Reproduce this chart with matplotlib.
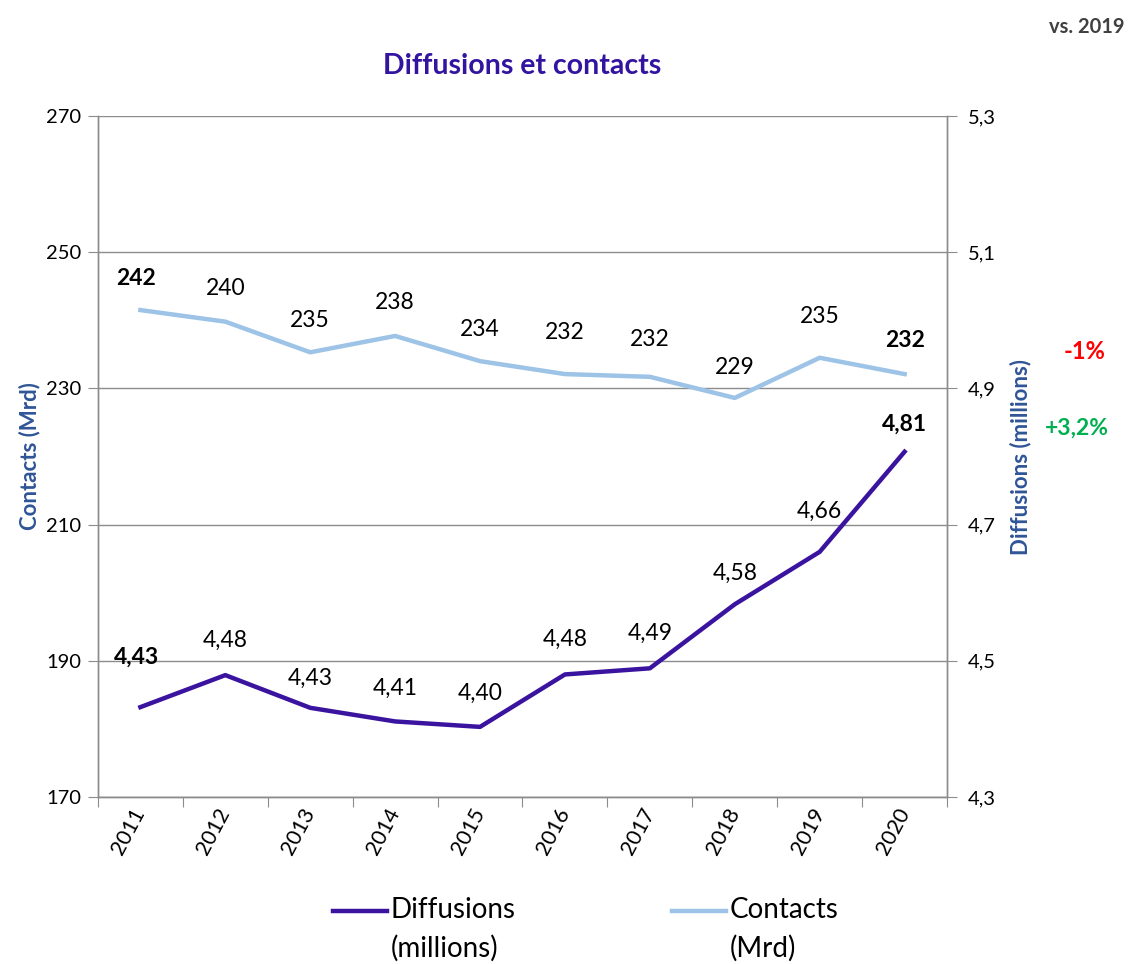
import matplotlib
matplotlib.use("Agg")
import matplotlib.pyplot as plt
from matplotlib.ticker import FixedLocator, NullFormatter, FuncFormatter
from matplotlib.legend_handler import HandlerLine2D

years = ["2011", "2012", "2013", "2014", "2015", "2016", "2017", "2018", "2019", "2020"]
diffusions = [4.432, 4.479, 4.431, 4.411, 4.403, 4.480, 4.489, 4.583, 4.660, 4.807]
contacts = [241.5, 239.8, 235.3, 237.7, 234.0, 232.1, 231.7, 228.6, 234.5, 232.1]
diff_labels = ["4,43", "4,48", "4,43", "4,41", "4,40", "4,48", "4,49", "4,58", "4,66", "4,81"]
cont_labels = ["242", "240", "235", "238", "234", "232", "232", "229", "235", "232"]
left_ticks = [170, 190, 210, 230, 250, 270]
right_ticks = [4.3, 4.5, 4.7, 4.9, 5.1, 5.3]
chg_contacts = "-1%"
chg_diffusions = "+3,2%"

FONT = ["Lato", "DejaVu Sans"]
plt.rcParams["font.family"] = FONT

C_DIFF = "#3A139F"
C_CONT = "#9DC3E6"
C_GRID = "#8C8C8C"
C_AXLAB = "#2F5597"


class TopLineHandler(HandlerLine2D):
    """Legend line aligned with the first text line."""
    def __init__(self, shift, **kw):
        super().__init__(**kw)
        self.shift = shift

    def create_artists(self, legend, orig_handle, xdescent, ydescent, width, height, fontsize, trans):
        arts = super().create_artists(legend, orig_handle, xdescent, ydescent, width, height, fontsize, trans)
        for a in arts:
            yd = a.get_ydata()
            a.set_ydata([y + self.shift for y in yd])
        return arts


fig = plt.figure(figsize=(11.35, 9.64), dpi=100)
ax = fig.add_axes([0.0863, 0.1732, 0.7481, 0.7065])
ax2 = ax.twinx()

x = list(range(len(years)))
ax.set_xlim(-0.5, len(years) - 0.5)
ax.set_ylim(170, 270)
ax2.set_ylim(4.3, 5.3)

ax.set_yticks(left_ticks)
ax.grid(axis="y", color=C_GRID, lw=1)
ax.set_axisbelow(True)
ax2.set_yticks(right_ticks)
ax2.yaxis.set_major_formatter(FuncFormatter(lambda v, p: f"{v:.1f}".replace(".", ",")))

# category boundary ticks
ax.xaxis.set_major_locator(FixedLocator([i - 0.5 for i in range(len(years) + 1)]))
ax.xaxis.set_major_formatter(NullFormatter())
ax.xaxis.set_minor_locator(FixedLocator(x))
ax.set_xticklabels(years, minor=True)
ax.tick_params(axis="x", which="minor", length=0, labelsize=15.5, pad=9)
for lbl in ax.get_xticklabels(minor=True):
    lbl.set_rotation(62)
    lbl.set_ha("right")
    lbl.set_va("center")
    lbl.set_rotation_mode("anchor")
ax.tick_params(axis="x", which="major", length=7, color=C_GRID)
ax.tick_params(axis="y", length=7, color=C_GRID, labelsize=14.5, pad=5)
ax2.tick_params(axis="y", length=7, color=C_GRID, labelsize=14.5, pad=8)

for a in (ax, ax2):
    a.spines["top"].set_visible(False)
    for s in ("left", "right", "bottom"):
        a.spines[s].set_color(C_GRID)
        a.spines[s].set_linewidth(1)

l2, = ax.plot(x, contacts, color=C_CONT, lw=3.2, solid_joinstyle="round", label="Contacts\n(Mrd)")
l1, = ax2.plot(x, diffusions, color=C_DIFF, lw=3.2, solid_joinstyle="round", label="Diffusions\n(millions)")

cont_off = [23, 24, 23, 24, 23, 30, 27, 22, 30, 24]
diff_off = [36, 25, 21, 24, 24, 25, 25, 22, 29, 20]
for i, (v, t) in enumerate(zip(contacts, cont_labels)):
    bold = i in (0, len(years) - 1)
    ax.annotate(t, (i, v), xytext=(-3 if i == 0 else 0, cont_off[i]), textcoords="offset points",
                ha="center", va="center", fontsize=16.5, fontweight="bold" if bold else "normal")
for i, (v, t) in enumerate(zip(diffusions, diff_labels)):
    bold = i in (0, len(years) - 1)
    ax2.annotate(t, (i, v), xytext=(-3 if i == 0 else 0, diff_off[i]), textcoords="offset points",
                 ha="center", va="center", fontsize=16.5, fontweight="bold" if bold else "normal")

ax.set_ylabel("Contacts (Mrd)", color=C_AXLAB, fontsize=16, fontweight="bold", labelpad=4)
ax2.set_ylabel("Diffusions (millions)", color=C_AXLAB, fontsize=16, fontweight="bold", labelpad=10)

fig.text(0.46, 0.932, "Diffusions et contacts", ha="center", va="center",
         fontsize=20.5, fontweight="bold", color="#3314A0")
fig.text(0.991, 0.972, "vs. 2019", ha="right", va="center", fontsize=14.5,
         fontweight="bold", color="#404040")
fig.text(0.956, 0.635, chg_contacts, ha="center", va="center", fontsize=17,
         fontweight="bold", color="#FF0000")
fig.text(0.949, 0.556, chg_diffusions, ha="center", va="center", fontsize=16.5,
         fontweight="bold", color="#00B050")

leg = fig.legend([l1, l2], [l1.get_label(), l2.get_label()], loc="center",
                 bbox_to_anchor=(0.516, 0.036), ncol=2, frameon=False, fontsize=20,
                 handlelength=1.95, handletextpad=0.15, columnspacing=5.6,
                 handler_map={l1: TopLineHandler(14), l2: TopLineHandler(14)})
for t in leg.get_texts():
    t.set_linespacing(1.55)

fig.savefig("out.png", dpi=100)
